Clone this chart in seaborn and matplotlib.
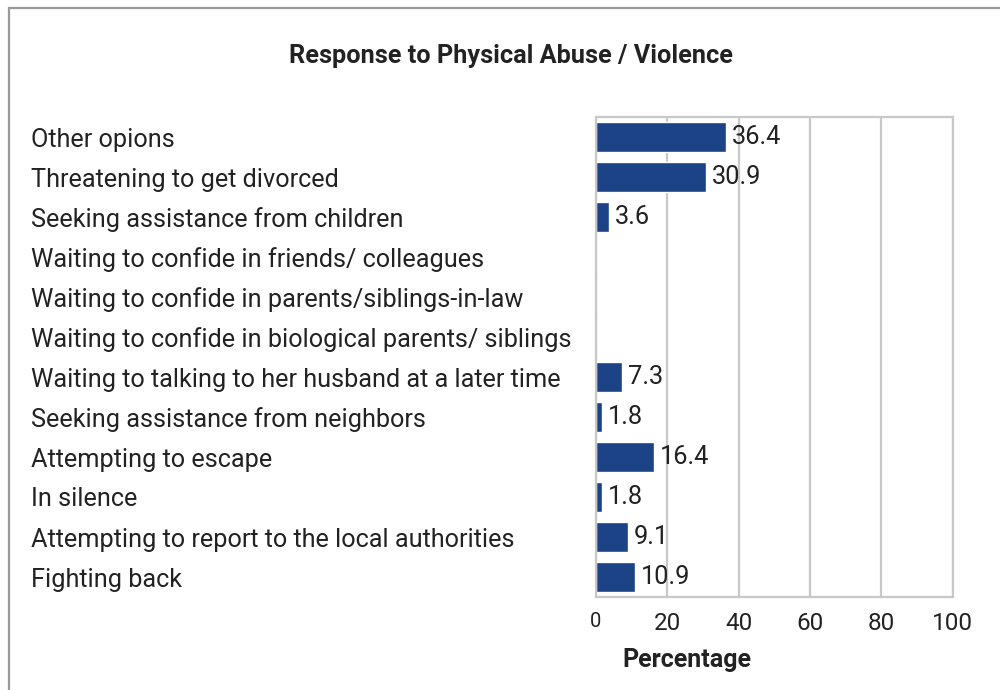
import numpy as np
import pandas as pd
import matplotlib
matplotlib.use("Agg")
import matplotlib.pyplot as plt
import seaborn as sns
from matplotlib.patches import Rectangle

# data (top to bottom as shown)
responses = [
    "Other opions",
    "Threatening to get divorced",
    "Seeking assistance from children",
    "Waiting to confide in friends/ colleagues",
    "Waiting to confide in parents/siblings-in-law",
    "Waiting to confide in biological parents/ siblings",
    "Waiting to talking to her husband at a later time",
    "Seeking assistance from neighbors",
    "Attempting to escape",
    "In silence",
    "Attempting to report to the local authorities",
    "Fighting back",
]
percentage = [36.4, 30.9, 3.6, 0, 0, 0, 7.3, 1.8, 16.4, 1.8, 9.1, 10.9]
x_ticks = [0, 20, 40, 60, 80, 100]

df = pd.DataFrame({"response": responses, "percentage": percentage})

sns.set_style("white")
plt.rcParams["font.family"] = ["Roboto", "DejaVu Sans"]

grid_col = "#c8c8c8"
bar_col = "#1c4386"
txt_col = "#222222"

fig = plt.figure(figsize=(10, 6.9), dpi=100)
ax = fig.add_axes([0.596, 1 - 597 / 690, 0.3567, (597 - 117) / 690])

sns.barplot(data=df, x="percentage", y="response", orient="h", color=bar_col,
            width=0.75, saturation=1, ax=ax, order=responses)

ax.set_xlim(0, 100)
ax.set_ylim(len(responses) - 0.5, -0.5)
ax.set_xticks(x_ticks)
ax.set_xticklabels([str(t) for t in x_ticks])
ax.tick_params(axis="x", length=0, pad=11, labelsize=17.5, labelcolor=txt_col)
ax.get_xticklabels()[0].set_fontsize(14.5)
ax.xaxis.grid(True, color=grid_col, linewidth=1.6)
ax.set_axisbelow(True)

# category labels, left aligned near the figure edge
ax.set_yticks(range(len(responses)))
ax.set_yticklabels(responses)
ax.tick_params(axis="y", which="major", length=0, pad=(596 - 31) * 0.72,
               labelsize=18.2, labelcolor=txt_col)
for lab in ax.get_yticklabels():
    lab.set_horizontalalignment("left")
ax.set_yticks(np.arange(-0.5, len(responses)), minor=True)
ax.tick_params(axis="y", which="minor", length=10, width=1.6, color=grid_col)

for s in ax.spines.values():
    s.set_color(grid_col)
    s.set_linewidth(1.6)

labels = [f"{v:.1f}" if v > 0 else "" for v in percentage]
ax.bar_label(ax.containers[0], labels=labels, padding=4, fontsize=18.3, color=txt_col)

ax.set_ylabel("")
ax.set_xlabel("Percentage", fontsize=18, fontweight="bold", color=txt_col)
ax.xaxis.set_label_coords((687 - 596) / 357, -(660 - 597) / 480, transform=ax.transAxes)
ax.xaxis.label.set_verticalalignment("center")

fig.text(0.511, 1 - 56 / 690, "Response to Physical Abuse / Violence",
         ha="center", va="center", fontsize=18.2, fontweight="bold", color=txt_col)

# outer frame
fig.patches.append(Rectangle((9 / 1000, -0.1), 1.2, 1.1 - 8 / 690, transform=fig.transFigure,
                             fill=False, edgecolor="#999999", linewidth=1.6))

fig.savefig("out.png", dpi=100)
